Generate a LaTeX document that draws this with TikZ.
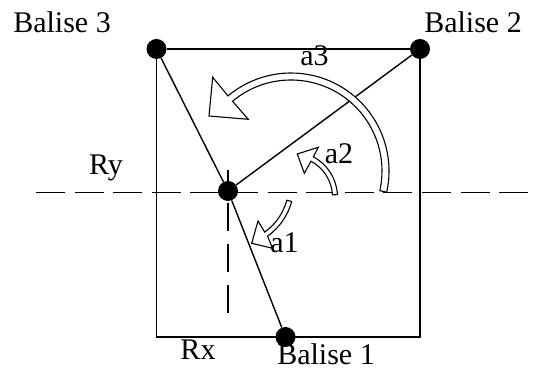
\documentclass[tikz,border=0pt]{standalone}
\usepackage{fontspec}
\setmainfont{Liberation Serif}
\usetikzlibrary{calc}

\begin{document}
\begin{tikzpicture}[x=1pt,y=1pt,
  beacon/.style={circle,fill=black,inner sep=0pt,minimum size=20pt},
  lbl/.style={anchor=base,inner sep=0pt,font=\fontsize{30}{36}\selectfont},
  frame/.style={line width=1.4pt},
  axis/.style={line width=1.6pt,dash pattern=on 29pt off 9.6pt},
  turn/.style={draw=black,fill=white,line width=1.1pt,line join=miter}
]
  \useasboundingbox (0,0) rectangle (535,371);
  % beacons and robot
  \node[beacon] (b3)  at (156.5,322) {};
  \node[beacon] (b2)  at (420,322) {};
  \node[beacon] (b1)  at (285.5,34) {};
  \node[beacon] (rob) at (228,180) {};
  \coordinate (bl) at (156.5,34);
  \coordinate (br) at (420,34);
  % axes through the robot
  \coordinate (ryL) at (36,178.5);  \coordinate (ryR) at (528,178.5);
  \coordinate (rxB) at (228,58);    \coordinate (rxT) at (228,201);
  \draw[axis] (ryL) -- (ryR);
  \draw[axis,dash pattern=on 28pt off 13pt] (rxB) -- (rxT);
  % field
  \draw[frame] (b3) -- (b2);
  \draw[frame] (b2) -- (br) -- (bl) -- (b3);
  \draw[frame] (b3) -- (rob) -- (b1);
  \draw[frame] (rob) -- (b2);
  % angle arrows
  \coordinate (c3) at (291,200);
  \draw[turn] ($(c3)+(-12.5:98)$) arc[start angle=-12.5,end angle=130,radius=98]
    -- (212.7,293.7) -- (209,255) -- (248.3,251.7)
    -- ($(c3)+(130:91)$) arc[start angle=130,end angle=-12.5,radius=91] -- cycle;
  \coordinate (c2) at (292,174);
  \draw[turn] ($(c2)+(3:45.5)$) arc[start angle=3,end angle=62,radius=45.5]
    -- (318.3,223.7) -- (297.3,217) -- (304.3,197.7)
    -- ($(c2)+(62:40.5)$) arc[start angle=62,end angle=3,radius=40.5] -- cycle;
  \coordinate (c1) at (231.3,185.7);
  \draw[turn] ($(c1)+(-15:62.5)$) arc[start angle=-15,end angle=-54.5,radius=62.5]
    -- (272.5,122.7) -- (251.7,127.7) -- (258,150)
    -- ($(c1)+(-54.5:57.5)$) arc[start angle=-54.5,end angle=-15,radius=57.5] -- cycle;
  % labels
  \node[lbl] (t3)  at (62,338)    {Balise 3};
  \node[lbl] (t2)  at (473,338)   {Balise 2};
  \node[lbl] (t1)  at (326,6)     {Balise 1};
  \node[lbl] (trx) at (198,11)    {Rx};
  \node[lbl] (try) at (106,196)   {Ry};
  \node[lbl] (ta3) at (314.5,305) {a3};
  \node[lbl] (ta2) at (339,207)   {a2};
  \node[lbl] (ta1) at (284.5,118) {a1};
\end{tikzpicture}
\end{document}
